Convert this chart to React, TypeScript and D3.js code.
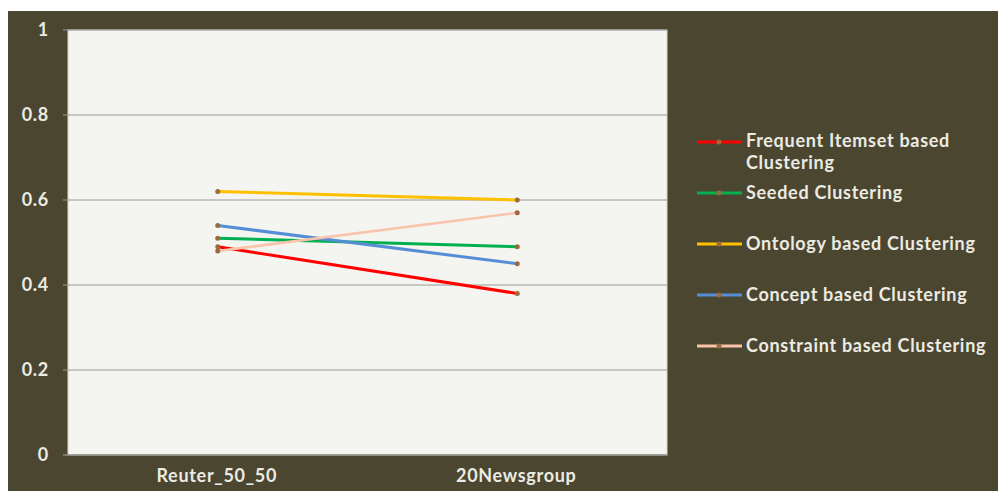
import * as d3 from "d3";
import React, { useEffect, useRef } from "react";

const categories = ["Reuter_50_50", "20Newsgroup"];
const seriesNames = [
  "Frequent Itemset based Clustering",
  "Seeded Clustering",
  "Ontology based Clustering",
  "Concept based Clustering",
  "Constraint based Clustering",
];
const frequentItemset = [0.49, 0.38];
const seeded = [0.51, 0.49];
const ontology = [0.62, 0.6];
const concept = [0.54, 0.45];
const constraint = [0.48, 0.57];
const yTicks = [0, 0.2, 0.4, 0.6, 0.8, 1];

const colors = ["#ff0000", "#00b050", "#ffc000", "#558ed5", "#fac4aa"];
const legendLines = [
  ["Frequent Itemset based", "Clustering"],
  ["Seeded Clustering"],
  ["Ontology based Clustering"],
  ["Concept based Clustering"],
  ["Constraint based Clustering"],
];
const legendY = [142, 193, 244, 295, 346];

export default function App() {
  const ref = useRef<SVGSVGElement>(null);

  useEffect(() => {
    const svg = d3.select(ref.current);
    svg.selectAll("*").remove();

    const values = [frequentItemset, seeded, ontology, concept, constraint];
    const font = "Lato, sans-serif";
    const textColor = "#ecebe3";
    const spacing = 0.7;

    // frame
    svg.append("rect").attr("width", 998).attr("height", 491).attr("fill", "#ffffff");
    svg
      .append("rect")
      .attr("x", 8)
      .attr("y", 11)
      .attr("width", 990)
      .attr("height", 480)
      .attr("fill", "#4b4630");

    const left = 68;
    const right = 667;
    const top = 30;
    const bottom = 455;

    svg
      .append("rect")
      .attr("x", left)
      .attr("y", top)
      .attr("width", right - left)
      .attr("height", bottom - top)
      .attr("fill", "#f4f4f1")
      .attr("stroke", "#d8d8d2")
      .attr("stroke-width", 1);

    const x = d3.scaleBand().domain(categories).range([left, right]);
    const y = d3.scaleLinear().domain([0, 1]).range([bottom, top]);

    // gridlines + y labels
    const g = svg.append("g");
    g.selectAll("line.grid")
      .data(yTicks)
      .enter()
      .append("line")
      .attr("x1", left - 5)
      .attr("x2", right)
      .attr("y1", (d) => y(d))
      .attr("y2", (d) => y(d))
      .attr("stroke", (d) => (d === 0 ? "#8a8a80" : "#9a9a94"))
      .attr("stroke-width", (d) => (d === 0 ? 1.5 : 1));

    g.selectAll("text.ytick")
      .data(yTicks)
      .enter()
      .append("text")
      .attr("x", 49)
      .attr("y", (d) => y(d))
      .attr("dy", "0.35em")
      .attr("text-anchor", "end")
      .attr("fill", textColor)
      .attr("font-family", font)
      .attr("font-size", 18)
      .attr("font-weight", 700)
      .attr("letter-spacing", spacing)
      .text((d) => d3.format("")(d));

    // x labels
    g.selectAll("text.xtick")
      .data(categories)
      .enter()
      .append("text")
      .attr("x", (d) => x(d)! + x.bandwidth() / 2 - 1)
      .attr("y", 482)
      .attr("text-anchor", "middle")
      .attr("fill", textColor)
      .attr("font-family", font)
      .attr("font-size", 18)
      .attr("font-weight", 700)
      .attr("letter-spacing", spacing)
      .text((d) => d);

    // lines
    const line = d3
      .line<number>()
      .x((_, i) => x(categories[i])! + x.bandwidth() / 2)
      .y((d) => y(d));

    values.forEach((vals, s) => {
      svg
        .append("path")
        .datum(vals)
        .attr("d", line)
        .attr("fill", "none")
        .attr("stroke", colors[s])
        .attr("stroke-width", s === 4 ? 2.5 : 3);
    });
    values.forEach((vals) => {
      svg
        .append("g")
        .selectAll("circle")
        .data(vals)
        .enter()
        .append("circle")
        .attr("cx", (_, i) => x(categories[i])! + x.bandwidth() / 2)
        .attr("cy", (d) => y(d))
        .attr("r", 2.5)
        .attr("fill", "#9c6a3c");
    });

    // legend
    const lg = svg.append("g");
    seriesNames.forEach((name, s) => {
      const ly = legendY[s];
      const row = lg.append("g").attr("aria-label", name);
      row
        .append("line")
        .attr("x1", 697)
        .attr("x2", 742)
        .attr("y1", ly)
        .attr("y2", ly)
        .attr("stroke", colors[s])
        .attr("stroke-width", 3);
      row
        .append("circle")
        .attr("cx", 719)
        .attr("cy", ly)
        .attr("r", 2.5)
        .attr("fill", "#9c6a3c");
      legendLines[s].forEach((t, k) => {
        row
          .append("text")
          .attr("x", 746)
          .attr("y", ly - (legendLines[s].length > 1 ? 1 : 0) + k * 22)
          .attr("dy", "0.35em")
          .attr("fill", textColor)
          .attr("font-family", font)
          .attr("font-size", 18)
          .attr("font-weight", 700)
          .attr("letter-spacing", spacing)
          .text(t);
      });
    });
  }, []);

  return (
    <svg
      ref={ref}
      width={998}
      height={491}
      style={{ position: "absolute", left: 0, top: 0 }}
    />
  );
}
